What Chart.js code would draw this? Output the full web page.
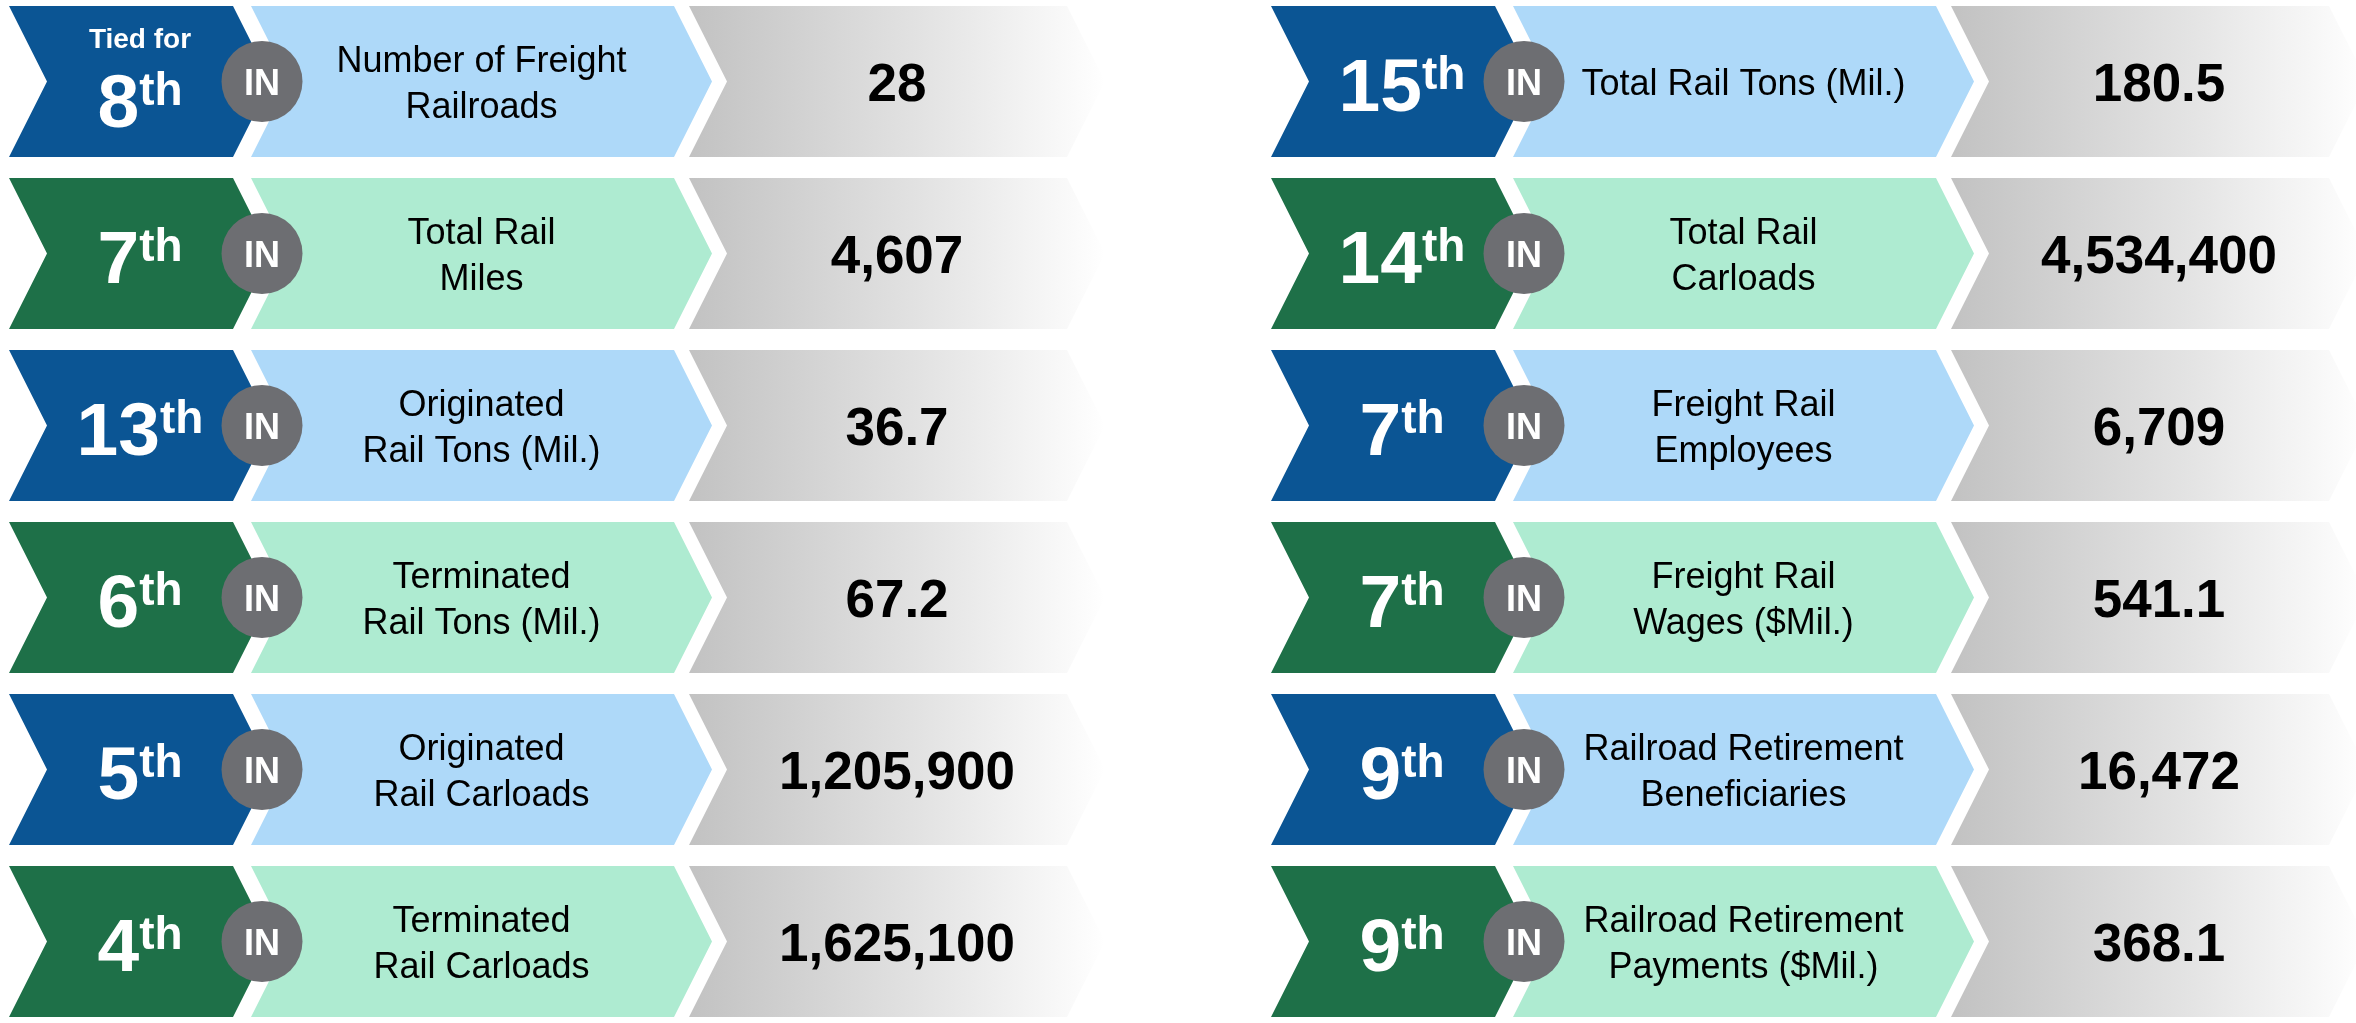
<!DOCTYPE html>
<html>
<head>
<meta charset="utf-8">
<title>Indiana freight rail rankings</title>
<script src="https://cdn.jsdelivr.net/npm/chart.js@4/dist/chart.umd.min.js"></script>
<style>
  html, body { margin: 0; padding: 0; background: #fff; overflow: hidden; }
  canvas { display: block; }
</style>
</head>
<body>
<canvas id="myChart" width="2356" height="1023"></canvas>
<script>
// data - left column
var ranksLeft = [8, 7, 13, 6, 5, 4];
var prefixLeft = ['Tied for', '', '', '', '', ''];
var metricsLeft = [
  ['Number of Freight', 'Railroads'],
  ['Total Rail', 'Miles'],
  ['Originated', 'Rail Tons (Mil.)'],
  ['Terminated', 'Rail Tons (Mil.)'],
  ['Originated', 'Rail Carloads'],
  ['Terminated', 'Rail Carloads']
];
var valuesLeft = [28, 4607, 36.7, 67.2, 1205900, 1625100];

// data - right column
var ranksRight = [15, 14, 7, 7, 9, 9];
var prefixRight = ['', '', '', '', '', ''];
var metricsRight = [
  ['Total Rail Tons (Mil.)'],
  ['Total Rail', 'Carloads'],
  ['Freight Rail', 'Employees'],
  ['Freight Rail', 'Wages ($Mil.)'],
  ['Railroad Retirement', 'Beneficiaries'],
  ['Railroad Retirement', 'Payments ($Mil.)']
];
var valuesRight = [180.5, 4534400, 6709, 541.1, 16472, 368.1];

var stateCode = 'IN';

// layout (pixels of the x scale) and colours
var FONT = "'Liberation Sans', Arial, sans-serif";
var segments = { rank: [9, 233], metric: [251, 674], value: [689, 1067] };
var columnOffsets = [0, 1262];
var tipDepth = 38;
var circleGap = 29, circleRadius = 40.5;
var darkColors = ['#0b5594', '#1e7048'];
var lightColors = ['#aed9f9', '#aeebd1'];

function ordinal(n) {
  var s = ['th', 'st', 'nd', 'rd'], v = n % 100;
  return s[(v - 20) % 10] || s[v] || s[0];
}

var columns = [
  { ranks: ranksLeft, prefix: prefixLeft, metrics: metricsLeft, values: valuesLeft },
  { ranks: ranksRight, prefix: prefixRight, metrics: metricsRight, values: valuesRight }
];

var datasets = [];
columns.forEach(function (col, c) {
  ['rank', 'metric', 'value'].forEach(function (seg) {
    datasets.push({
      label: seg + c,
      seg: seg,
      col: c,
      grouped: false,
      barThickness: 151,
      backgroundColor: 'rgba(0,0,0,0)',
      borderWidth: 0,
      data: col.ranks.map(function (r, i) {
        return { y: i, x: [segments[seg][0] + columnOffsets[c], segments[seg][1] + columnOffsets[c]] };
      })
    });
  });
});

function chevron(ctx, left, right, top, bottom, d) {
  var mid = (top + bottom) / 2;
  ctx.beginPath();
  ctx.moveTo(left, top);
  ctx.lineTo(right, top);
  ctx.lineTo(right + d, mid);
  ctx.lineTo(right, bottom);
  ctx.lineTo(left, bottom);
  ctx.lineTo(left + d, mid);
  ctx.closePath();
}

var chevronPlugin = {
  id: 'chevrons',
  afterDatasetsDraw: function (chart) {
    var ctx = chart.ctx;
    ctx.save();
    // shapes
    chart.data.datasets.forEach(function (ds, d) {
      var meta = chart.getDatasetMeta(d);
      meta.data.forEach(function (bar, i) {
        var p = bar.getProps(['x', 'y', 'base', 'height'], true);
        var left = Math.min(p.x, p.base), right = Math.max(p.x, p.base);
        var top = p.y - p.height / 2, bottom = p.y + p.height / 2;
        chevron(ctx, left, right, top, bottom, tipDepth);
        if (ds.seg === 'rank') {
          ctx.fillStyle = darkColors[i % 2];
        } else if (ds.seg === 'metric') {
          ctx.fillStyle = lightColors[i % 2];
        } else {
          var g = ctx.createLinearGradient(left, 0, right + tipDepth, 0);
          g.addColorStop(0, '#c2c2c2');
          g.addColorStop(0.55, '#e2e2e2');
          g.addColorStop(1, '#ffffff');
          ctx.fillStyle = g;
        }
        ctx.fill();
      });
    });

    // circles + text
    chart.data.datasets.forEach(function (ds, d) {
      var meta = chart.getDatasetMeta(d);
      var col = columns[ds.col];
      meta.data.forEach(function (bar, i) {
        var p = bar.getProps(['x', 'y', 'base', 'height'], true);
        var left = Math.min(p.x, p.base), right = Math.max(p.x, p.base);
        var cx = (left + tipDepth + right) / 2, cy = p.y;
        ctx.textBaseline = 'alphabetic';

        if (ds.seg === 'rank') {
          var num = String(col.ranks[i]), suf = ordinal(col.ranks[i]);
          var hasPrefix = col.prefix[i] !== '';
          var base = hasPrefix ? cy + 45.5 : cy + 29;
          ctx.fillStyle = '#ffffff';
          ctx.font = 'bold 75px ' + FONT;
          var wn = ctx.measureText(num).width;
          ctx.font = 'bold 46px ' + FONT;
          var ws = ctx.measureText(suf).width;
          var x0 = cx - (wn + ws) / 2;
          ctx.textAlign = 'left';
          ctx.font = 'bold 75px ' + FONT;
          ctx.fillText(num, x0, base);
          ctx.font = 'bold 46px ' + FONT;
          ctx.fillText(suf, x0 + wn, base - 22);
          if (hasPrefix) {
            ctx.textAlign = 'center';
            ctx.font = 'bold 28px ' + FONT;
            ctx.fillText(col.prefix[i], cx, cy - 33.5);
          }
          // state circle
          ctx.beginPath();
          ctx.arc(right + circleGap, cy, circleRadius, 0, Math.PI * 2);
          ctx.fillStyle = '#6d6e72';
          ctx.fill();
          ctx.fillStyle = '#ffffff';
          ctx.textAlign = 'center';
          ctx.font = 'bold 36px ' + FONT;
          ctx.fillText(stateCode, right + circleGap, cy + 13.5);
        } else if (ds.seg === 'metric') {
          var lines = col.metrics[i];
          ctx.fillStyle = '#000000';
          ctx.textAlign = 'center';
          ctx.font = '36px ' + FONT;
          lines.forEach(function (ln, k) {
            ctx.fillText(ln, cx, cy + 13 + (k - (lines.length - 1) / 2) * 46);
          });
        } else {
          ctx.fillStyle = '#000000';
          ctx.textAlign = 'center';
          ctx.font = 'bold 53px ' + FONT;
          ctx.fillText(col.values[i].toLocaleString('en-US'), cx, cy + 19.5);
        }
      });
    });
    ctx.restore();
  }
};

var ctx = document.getElementById('myChart').getContext('2d');
var myChart = new Chart(ctx, {
  type: 'bar',
  data: { labels: ranksLeft.map(function (r, i) { return i; }), datasets: datasets },
  options: {
    indexAxis: 'y',
    responsive: false,
    devicePixelRatio: 1,
    animation: false,
    layout: { padding: 0 },
    plugins: { legend: { display: false }, tooltip: { enabled: false } },
    scales: {
      x: { type: 'linear', min: 0, max: 2356, offset: false, display: false },
      y: { type: 'linear', min: -81.5 / 172, max: (1023 - 81.5) / 172, reverse: true, offset: false, display: false }
    }
  },
  plugins: [chevronPlugin]
});
</script>
</body>
</html>
